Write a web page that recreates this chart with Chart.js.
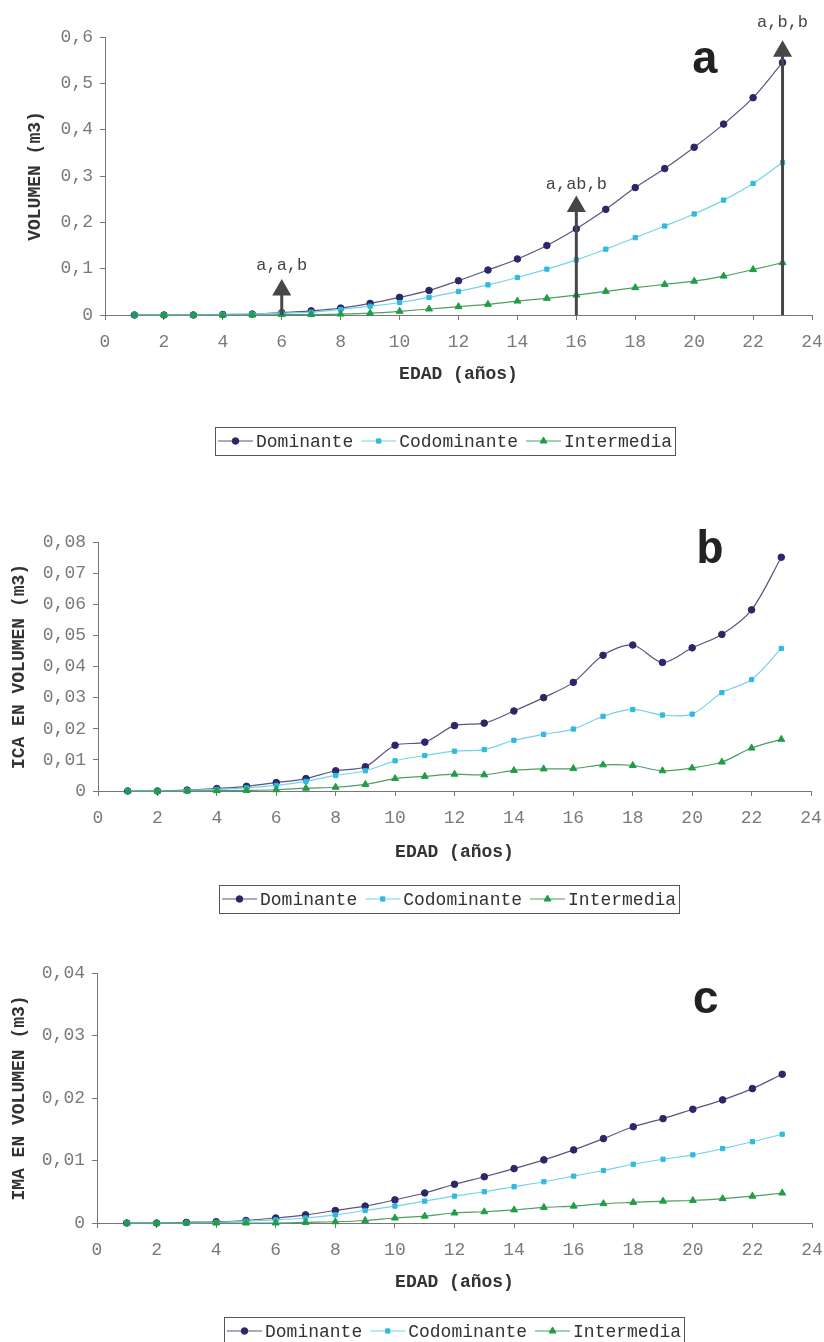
<!DOCTYPE html>
<html lang="es">
<head>
<meta charset="UTF-8">
<title>Volumen, ICA e IMA por edad</title>
<style>
  body { margin: 0; background: #fff; }
  .panel { position: absolute; left: 0; }
</style>
</head>
<body>
<canvas id="chartVol" class="panel" width="824" height="462" style="top:0"></canvas>
<canvas id="chartIca" class="panel" width="824" height="458" style="top:462px"></canvas>
<canvas id="chartIma" class="panel" width="824" height="422" style="top:920px"></canvas>

<script src="https://cdn.jsdelivr.net/npm/chart.js"></script>
<script>
// edad (años)
const edad = [1,2,3,4,5,6,7,8,9,10,11,12,13,14,15,16,17,18,19,20,21,22,23];
const xTickValues = [0,2,4,6,8,10,12,14,16,18,20,22,24];

// a: volumen (m3)
const volDom = [0,0,0,0.001,0.002,0.005,0.009,0.015,0.025,0.038,0.053,0.074,0.097,0.121,0.150,0.186,0.228,0.275,0.316,0.362,0.412,0.469,0.545];
const volCod = [0,0,0,0.001,0.002,0.004,0.006,0.012,0.019,0.027,0.038,0.051,0.065,0.081,0.099,0.119,0.142,0.167,0.192,0.218,0.248,0.284,0.329];
const volInt = [0,0,0,0,0,0.001,0.001,0.002,0.004,0.008,0.013,0.018,0.023,0.030,0.036,0.043,0.051,0.059,0.066,0.073,0.084,0.098,0.113];
const volTicks = [0,0.1,0.2,0.3,0.4,0.5,0.6];
const volTickLabels = ['0','0,1','0,2','0,3','0,4','0,5','0,6'];

// flechas de significancia en a
const arrowX = [6,16,23];
const arrowHead = [0.054,0.234,0.569];
const arrowLabelY = [0.106,0.281,0.631];
const arrowText = ['a,a,b','a,ab,b','a,b,b'];

// b: ICA en volumen (m3)
const icaDom = [0,0,0.0003,0.0008,0.0015,0.0027,0.0040,0.0065,0.0078,0.0147,0.0157,0.0210,0.0218,0.0257,0.0300,0.0349,0.0436,0.0469,0.0413,0.0460,0.0503,0.0582,0.0751];
const icaCod = [0,0,0.0002,0.0005,0.0010,0.0018,0.0031,0.0050,0.0065,0.0097,0.0114,0.0128,0.0133,0.0163,0.0182,0.0199,0.0240,0.0262,0.0244,0.0247,0.0316,0.0358,0.0458];
const icaInt = [0,0,0,0.0001,0.0002,0.0004,0.0009,0.0012,0.0021,0.0040,0.0047,0.0054,0.0052,0.0066,0.0071,0.0072,0.0084,0.0082,0.0065,0.0074,0.0093,0.0138,0.0166];
const icaTicks = [0,0.01,0.02,0.03,0.04,0.05,0.06,0.07,0.08];
const icaTickLabels = ['0','0,01','0,02','0,03','0,04','0,05','0,06','0,07','0,08'];

// c: IMA en volumen (m3)
const imaDom = [0,0,0.0001,0.0002,0.0004,0.0008,0.0013,0.0020,0.0027,0.0037,0.0048,0.0062,0.0074,0.0087,0.0101,0.0117,0.0135,0.0154,0.0167,0.0182,0.0197,0.0215,0.0238];
const imaCod = [0,0,0,0.0001,0.0003,0.0005,0.0008,0.0013,0.0020,0.0027,0.0035,0.0043,0.0050,0.0058,0.0066,0.0075,0.0084,0.0094,0.0102,0.0109,0.0119,0.0130,0.0142];
const imaInt = [0,0,0,0,0,0,0.0001,0.0002,0.0004,0.0008,0.0011,0.0016,0.0018,0.0021,0.0025,0.0027,0.0031,0.0033,0.0035,0.0036,0.0039,0.0043,0.0048];
const imaTicks = [0,0.01,0.02,0.03,0.04];
const imaTickLabels = ['0','0,01','0,02','0,03','0,04'];

const monoFont = "'Liberation Mono', 'Courier New', monospace";
const axisColor = '#777';
const tickColor = '#7a7a7a';
const titleColor = '#333';
Chart.defaults.font.family = monoFont;

function seriesSets(dom, cod, int, smooth) {
  const pts = arr => edad.map((e, i) => ({x: e, y: arr[i]}));
  const curve = smooth ? {cubicInterpolationMode: 'monotone'} : {tension: 0.3};
  return [
    {label: 'Dominante', data: pts(dom), borderColor: '#5a5582', backgroundColor: '#2b2868',
     pointBorderColor: '#2b2868', pointStyle: 'circle', pointRadius: 3.3, order: 3},
    {label: 'Codominante', data: pts(cod), borderColor: '#74d3ea', backgroundColor: '#31b9de',
     pointBorderColor: '#31b9de', pointStyle: 'rect', pointRadius: 3, order: 2},
    {label: 'Intermedia', data: pts(int), borderColor: '#4f9d62', backgroundColor: '#1f9e45',
     pointBorderColor: '#1f9e45', pointStyle: 'triangle', pointRadius: 4, order: 1}
  ].map(d => Object.assign(d, curve, {borderWidth: 1.2, pointBorderWidth: 1, clip: false}));
}

function arrowSets() {
  return arrowX.map((x, i) => ({
    isArrow: true,
    data: [{x: x, y: 0}, {x: x, y: arrowHead[i]}],
    borderColor: '#474747', backgroundColor: '#474747', pointBorderColor: '#474747',
    borderWidth: 3, pointStyle: 'triangle', pointRadius: [0, 8], order: 0, clip: false
  }));
}

function xAxis(h) {
  return {
    type: 'linear', min: 0, max: 24,
    afterBuildTicks: s => { s.ticks = xTickValues.map(v => ({value: v})); },
    // fixed height, and no extra side padding for the end labels
    afterFit: s => { s.height = h; s.paddingLeft = 0; s.paddingRight = 0; },
    ticks: {color: tickColor, font: {size: 18}, padding: 11, maxRotation: 0, autoSkip: false},
    grid: {drawOnChartArea: false, color: axisColor, tickLength: 5},
    border: {color: axisColor},
    title: {display: true, text: 'EDAD (años)', color: titleColor,
            font: {size: 18, weight: 'bold'}, padding: 0}
  };
}

function yAxis(ticks, labels, w, text, titleOffset) {
  return {
    type: 'linear', min: ticks[0], max: ticks[ticks.length - 1],
    afterBuildTicks: s => { s.ticks = ticks.map(v => ({value: v})); },
    afterFit: s => { s.width = w; },
    ticks: {color: tickColor, font: {size: 18}, padding: 7, callback: (v, i) => labels[i]},
    grid: {drawOnChartArea: false, color: axisColor, tickLength: 5},
    border: {color: axisColor},
    title: {display: true, text: text, color: titleColor,
            font: {size: 18, weight: 'bold'}, padding: {top: titleOffset, bottom: 0}}
  };
}

// leyenda con marco, como en la figura original
const boxLegend = {
  id: 'boxLegend',
  afterDraw(chart, args, opts) {
    const ctx = chart.ctx;
    const sets = chart.data.datasets.filter(d => !d.isArrow);
    const sample = 35, gap = 3, sep = 8;
    ctx.save();
    ctx.font = '18px ' + monoFont;
    const widths = sets.map(d => ctx.measureText(d.label).width);
    const total = widths.reduce((s, w) => s + sample + gap + w, 0) + sep * (sets.length - 1) + 2 * gap;
    let x = Math.round(opts.cx - total / 2);
    const cy = opts.top + opts.height / 2;
    ctx.strokeStyle = '#555';
    ctx.lineWidth = 1;
    ctx.strokeRect(x + 0.5, opts.top + 0.5, Math.round(total), opts.height);
    x += gap;
    sets.forEach((d, i) => {
      ctx.strokeStyle = d.borderColor;
      ctx.lineWidth = 1.2;
      ctx.beginPath();
      ctx.moveTo(x, cy);
      ctx.lineTo(x + sample, cy);
      ctx.stroke();
      ctx.fillStyle = d.backgroundColor;
      ctx.strokeStyle = d.pointBorderColor;
      ctx.lineWidth = 1;
      Chart.helpers.drawPoint(ctx, {pointStyle: d.pointStyle, radius: d.pointRadius, borderWidth: 1}, x + sample / 2, cy);
      ctx.fillStyle = '#333';
      ctx.textBaseline = 'middle';
      ctx.textAlign = 'left';
      ctx.fillText(d.label, x + sample + gap, cy + 1);
      x += sample + gap + widths[i] + sep;
    });
    ctx.restore();
  }
};

const panelLetter = {
  id: 'panelLetter',
  afterDraw(chart, args, opts) {
    const ctx = chart.ctx;
    ctx.save();
    ctx.font = 'bold 46px ' + monoFont;
    ctx.fillStyle = '#222';
    ctx.textAlign = 'center';
    ctx.textBaseline = 'alphabetic';
    ctx.fillText(opts.text, opts.x, opts.y);
    ctx.restore();
  }
};

const arrowLabels = {
  id: 'arrowLabels',
  afterDatasetsDraw(chart, args, opts) {
    if (!opts.show) return;
    const {ctx, scales: {x, y}} = chart;
    ctx.save();
    ctx.font = '17px ' + monoFont;
    ctx.fillStyle = '#444';
    ctx.textAlign = 'center';
    ctx.textBaseline = 'middle';
    arrowText.forEach((t, i) => {
      ctx.fillText(t, x.getPixelForValue(arrowX[i]), y.getPixelForValue(arrowLabelY[i]));
    });
    ctx.restore();
  }
};

function makeChart(id, datasets, layout, scales, letter, legend, showArrows) {
  return new Chart(document.getElementById(id), {
    type: 'line',
    data: {datasets: datasets},
    options: {
      responsive: false,
      animation: false,
      layout: {padding: layout},
      scales: scales,
      plugins: {
        legend: {display: false},
        tooltip: {enabled: false},
        boxLegend: legend,
        panelLetter: letter,
        arrowLabels: {show: showArrows}
      }
    },
    plugins: [boxLegend, panelLetter, arrowLabels]
  });
}

makeChart('chartVol',
  seriesSets(volDom, volCod, volInt, true).concat(arrowSets()),
  {top: 37, right: 12, bottom: 77, left: 0},
  {x: xAxis(70), y: yAxis(volTicks, volTickLabels, 105, 'VOLUMEN (m3)', 25)},
  {text: 'a', x: 705, y: 73},
  {cx: 445, top: 427, height: 28},
  true);

makeChart('chartIca',
  seriesSets(icaDom, icaCod, icaInt, false),
  {top: 80, right: 13, bottom: 57, left: 0},
  {x: xAxis(72), y: yAxis(icaTicks, icaTickLabels, 98, 'ICA EN VOLUMEN (m3)', 9)},
  {text: 'b', x: 710, y: 101},
  {cx: 449, top: 423, height: 28},
  false);

makeChart('chartIma',
  seriesSets(imaDom, imaCod, imaInt, true),
  {top: 53, right: 12, bottom: 49, left: 0},
  {x: xAxis(70), y: yAxis(imaTicks, imaTickLabels, 97, 'IMA EN VOLUMEN (m3)', 9)},
  {text: 'c', x: 706, y: 93},
  {cx: 454, top: 397, height: 28},
  false);
</script>
</body>
</html>
